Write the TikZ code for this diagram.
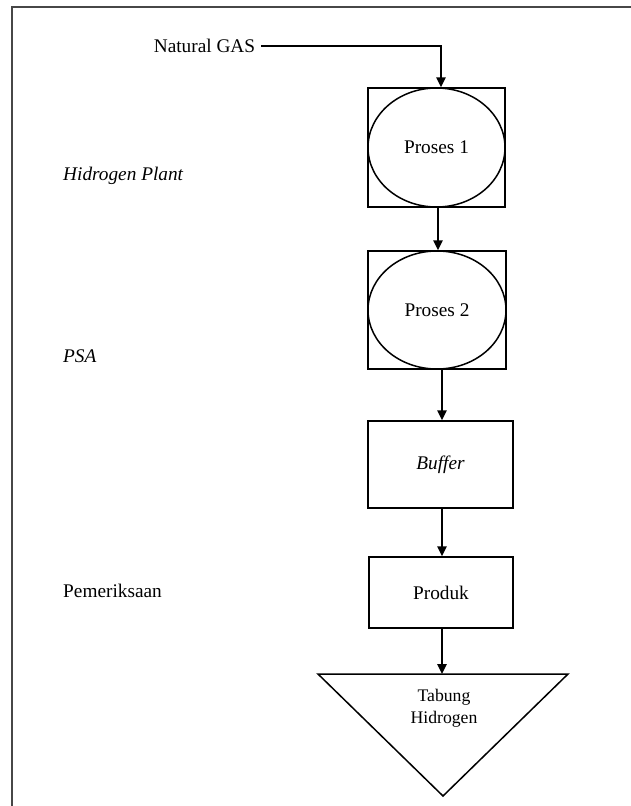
\documentclass[tikz,border=0pt]{standalone}
\usepackage{fontspec}
\setmainfont{Liberation Serif}
\usetikzlibrary{arrows.meta,shapes.geometric}
\begin{document}
\begin{tikzpicture}[x=1pt,y=-1pt,
  mainfont/.style={font=\fontsize{19.3}{23}\selectfont},
  boxnode/.style={draw, line width=1.5pt, rectangle, inner sep=0pt, mainfont},
  ellnode/.style={draw, line width=1.5pt, ellipse, inner sep=0pt, mainfont},
  lbl/.style={inner sep=0pt, anchor=base west, mainfont},
  arr/.style={line width=1.6pt, -{Triangle[length=10pt,width=9.5pt]}},
  frameline/.style={line width=2pt, black!72}
]
\useasboundingbox (0,0) rectangle (631,806);
% frame
\draw[frameline] (12,806) -- (12,7) -- (631,7);

% input
\node[inner sep=0pt, anchor=base, mainfont] (ng) at (204.5,52) {Natural GAS};

% process 1
\node[boxnode, minimum width=137pt, minimum height=119pt] (p1box) at (436.5,147.5) {};
\node[ellnode, minimum width=137pt, minimum height=119pt] (p1) at (p1box.center) {Proses 1};

% process 2
\node[boxnode, minimum width=138pt, minimum height=118pt] (p2box) at (437,310) {};
\node[ellnode, minimum width=138pt, minimum height=118pt] (p2) at (p2box.center) {Proses 2};

% buffer
\node[boxnode, minimum width=145pt, minimum height=87pt] (buffer) at (440.5,464.5) {\itshape Buffer};

% produk
\node[boxnode, minimum width=144pt, minimum height=71pt] (produk) at (441,592.5) {Produk};

% tank triangle
\coordinate (tl) at (318,674);
\coordinate (tr) at (568,674);
\coordinate (tb) at (443,796);
\draw[line width=1.5pt, line join=miter] (tl) -- (tr) -- (tb) -- cycle;
\node[inner sep=0pt, align=center, font=\fontsize{17.7}{22}\selectfont, anchor=base] (tank) at (444,723) {Tabung\\Hidrogen};

% left labels
\node[lbl] (hp) at (63,180.5) {\itshape Hidrogen Plant};
\node[lbl] (psa) at (63,362.5) {\itshape PSA};
\node[lbl] (pem) at (63,597) {Pemeriksaan};

% connectors
\draw[arr] ([xshift=6pt]ng.east |- 0,46) -| ([xshift=4.5pt]p1box.north);
\draw[arr] ([xshift=1.5pt]p1box.south) -- ([xshift=1pt]p2box.north);
\draw[arr] ([xshift=1.5pt]p2box.south -| buffer.north) -- ([xshift=1.5pt]buffer.north);
\draw[arr] ([xshift=1.5pt]buffer.south) -- ([xshift=1pt]produk.north);
\draw[arr] ([xshift=1pt]produk.south) -- ([xshift=1pt]produk.south |- tl);
\end{tikzpicture}
\end{document}
